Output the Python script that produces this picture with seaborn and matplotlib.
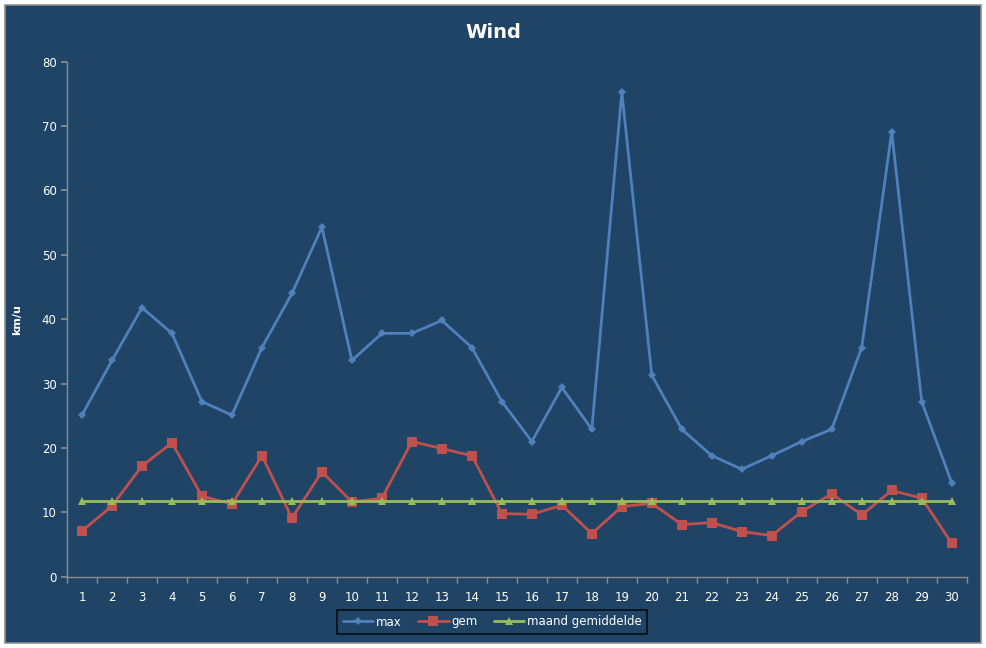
import pandas as pd
import seaborn as sns
import matplotlib.pyplot as plt
from matplotlib.patches import Rectangle

days = list(range(1, 31))
wind_max = [25.1, 33.6, 41.8, 37.8, 27.2, 25.1, 35.6, 44.0, 54.3, 33.6,
            37.8, 37.8, 39.8, 35.6, 27.2, 21.0, 29.4, 22.9, 75.3, 31.3,
            22.9, 18.8, 16.7, 18.8, 21.0, 22.9, 35.6, 69.1, 27.2, 14.6]
wind_gem = [7.1, 11.0, 17.2, 20.8, 12.5, 11.3, 18.8, 9.1, 16.3, 11.6,
            12.2, 21.0, 19.9, 18.8, 9.8, 9.7, 11.1, 6.7, 10.9, 11.4,
            8.1, 8.4, 7.0, 6.4, 10.1, 12.9, 9.6, 13.4, 12.2, 5.2]
maand_gem = [11.8] * 30

bg = "#1F4466"
sns.set_theme(style="dark")
plt.rcParams["font.family"] = ["DejaVu Sans"]

df = pd.DataFrame({"dag": days, "max": wind_max, "gem": wind_gem,
                   "maand gemiddelde": maand_gem})

fig = plt.figure(figsize=(9.87, 6.48), dpi=100, facecolor="white")
# achtergrondvlak met grijze rand, zoals in excel
fig.patches.append(Rectangle((5 / 987, 1 - 643 / 648), 976 / 987, 638 / 648,
                             transform=fig.transFigure, facecolor=bg,
                             edgecolor="#8C8C8C", linewidth=1.2, zorder=-10))
ax = fig.add_axes([67 / 987, 1 - 576.7 / 648, 899.7 / 987, 515 / 648])
ax.set_zorder(5)
ax.set_facecolor(bg)

sns.lineplot(data=df, x="dag", y="max", ax=ax, color="#4F81BD", lw=2.0,
             marker="D", markersize=4.5, markeredgewidth=0, label="max")
sns.lineplot(data=df, x="dag", y="gem", ax=ax, color="#C0504D", lw=2.0,
             marker="s", markersize=6.5, markeredgewidth=0, label="gem")
sns.lineplot(data=df, x="dag", y="maand gemiddelde", ax=ax, color="#9BBB59",
             lw=2.0, marker="^", markersize=6, markeredgewidth=0,
             label="maand gemiddelde")

ax.set_xlim(0.5, 30.5)
ax.set_ylim(0, 80)
ax.set_xticks(days)
ax.set_xticklabels([str(d) for d in days])
ax.set_xticks([d + 0.5 for d in range(0, 31)], minor=True)
ax.set_yticks(range(0, 81, 10))
ax.grid(False)
for s in ["top", "right"]:
    ax.spines[s].set_visible(False)
for s in ["left", "bottom"]:
    ax.spines[s].set_color("#8C8C8C")
    ax.spines[s].set_linewidth(1)
ax.tick_params(axis="x", which="major", length=0, pad=10, colors="white",
               labelsize=8.5)
ax.tick_params(axis="x", which="minor", length=4, color="#8C8C8C",
               direction="out", bottom=True)
ax.tick_params(axis="y", length=4, color="#8C8C8C", direction="out",
               labelcolor="white", labelsize=8.5, left=True)

ax.set_xlabel("")
ax.set_ylabel("km/u", color="white", fontsize=8, fontweight="bold", labelpad=14)
fig.text(0.5, 1 - 32 / 648, "Wind", color="white", fontsize=14,
         fontweight="bold", ha="center", va="center")

leg = ax.legend(loc="center", bbox_to_anchor=((492 - 67) / 899.7, -(622 - 576.7) / 515),
                ncol=3, frameon=True, fontsize=8.5, handlelength=2.6,
                columnspacing=1.4, handletextpad=0.2, borderpad=0.45,
                borderaxespad=0, fancybox=False)
leg.get_frame().set_facecolor(bg)
leg.get_frame().set_edgecolor("black")
leg.get_frame().set_linewidth(1.2)
for t in leg.get_texts():
    t.set_color("white")

fig.savefig("out.png", dpi=100, facecolor="white")
